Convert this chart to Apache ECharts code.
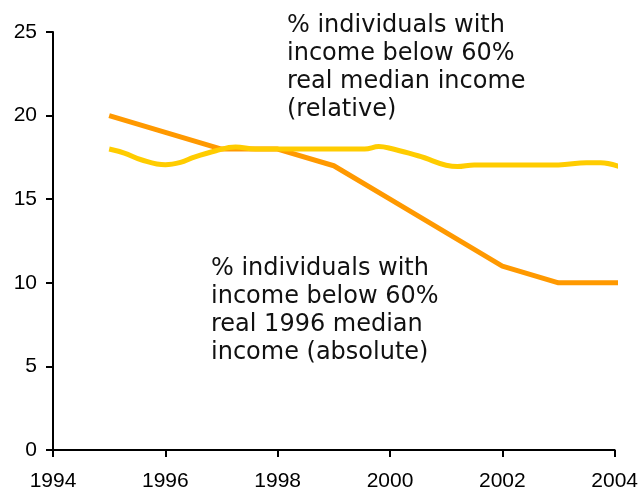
<!DOCTYPE html>
<html><head><meta charset="utf-8">
<script src="https://cdn.jsdelivr.net/npm/echarts@6/dist/echarts.min.js"></script>
<style>html,body{margin:0;padding:0;background:#fff}#c{width:641px;height:493px}</style>
</head><body><div id="c"></div>
<script>
const absYears = [1995, 1996, 1997, 1998, 1999, 2000, 2001, 2002, 2003, 2004.08];
const absValues = [20, 19, 18, 18, 17, 15, 13, 11, 10, 10];
const relYears = [1995, 1995.27, 1995.57, 1996, 1996.27, 1996.5, 1996.9, 1997.25, 1997.6, 1998, 1999, 1999.55, 1999.8, 2000, 2000.5, 2001.2, 2001.5, 2002, 2003, 2003.5, 2003.75, 2004.08];
const relValues = [18, 17.76, 17.36, 17.06, 17.2, 17.5, 17.9, 18.12, 18, 18, 18, 18, 18.15, 18.05, 17.6, 16.95, 17.05, 17.05, 17.05, 17.18, 17.18, 16.95];
const yTicks = [0, 5, 10, 15, 20, 25];
const xTicks = [1994, 1996, 1998, 2000, 2002, 2004];
const relLabel = ['% individuals with', 'income below 60%', 'real median income', '(relative)'];
const absLabel = ['% individuals with', 'income below 60%', 'real 1996 median', 'income (absolute)'];

const chart = echarts.init(document.getElementById('c'));
const tickFont = {color: '#000', fontFamily: 'Liberation Sans, Arial', fontSize: 21};
chart.setOption({
  animation: false,
  grid: {left: 53, right: 26, top: 32, bottom: 43},
  xAxis: {
    type: 'value', min: xTicks[0], max: xTicks[xTicks.length - 1], interval: 2,
    axisLine: {lineStyle: {color: '#000', width: 2}},
    axisTick: {show: true, length: 7, lineStyle: {color: '#000', width: 2}},
    axisLabel: Object.assign({margin: 21, formatter: v => String(v), showMaxLabel: true, showMinLabel: true}, tickFont),
    splitLine: {show: false}
  },
  yAxis: {
    type: 'value', min: yTicks[0], max: yTicks[yTicks.length - 1], interval: 5,
    axisLine: {show: true, lineStyle: {color: '#000', width: 2}},
    axisTick: {show: true, length: 7, lineStyle: {color: '#000', width: 2}},
    axisLabel: Object.assign({margin: 16}, tickFont),
    splitLine: {show: false}
  },
  series: [
    {type: 'line', data: absYears.map((y, i) => [y, absValues[i]]), showSymbol: false, clip: false,
     lineStyle: {color: '#FF9900', width: 5}, z: 2},
    {type: 'line', data: relYears.map((y, i) => [y, relValues[i]]), showSymbol: false, clip: false, smooth: 0.4,
     lineStyle: {color: '#FFCC00', width: 5}, z: 3}
  ],
  graphic: [
    {type: 'text', left: 287, top: 12, style: {text: relLabel.join('\n'), font: '24px "DejaVu Sans", Verdana', fill: '#111', lineHeight: 28}},
    {type: 'text', left: 211, top: 255, style: {text: absLabel.join('\n'), font: '24px "DejaVu Sans", Verdana', fill: '#111', lineHeight: 28}}
  ]
});
</script></body></html>
